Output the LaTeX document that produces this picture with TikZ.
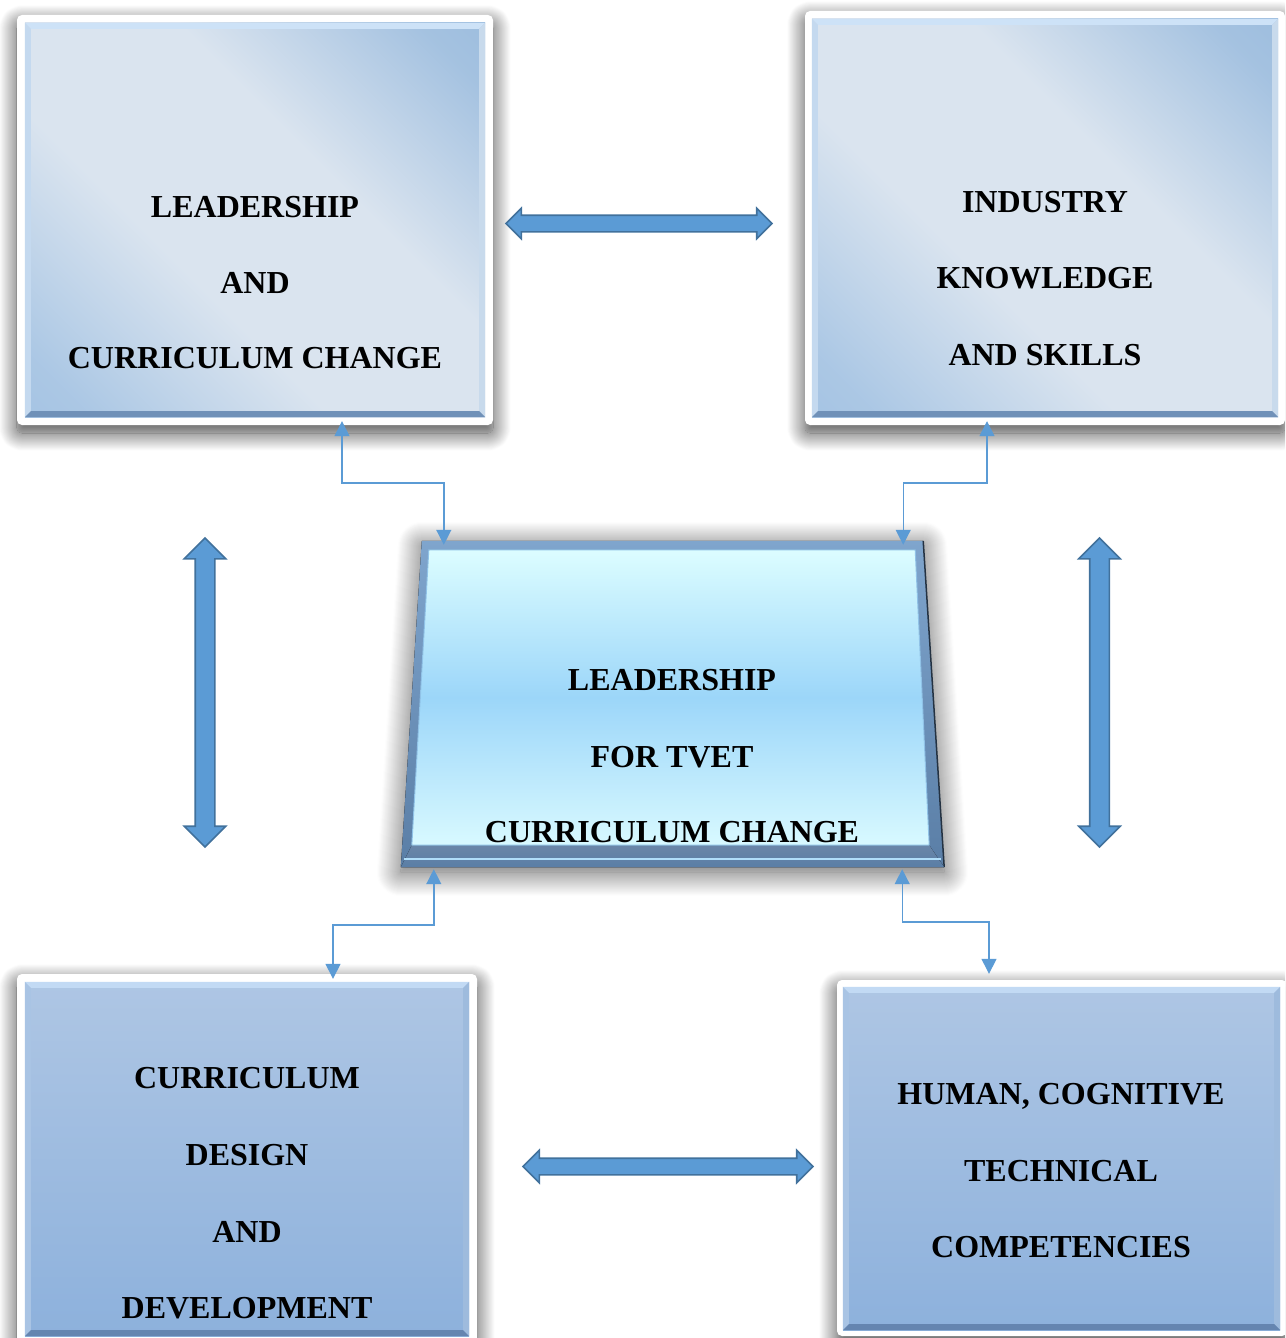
\documentclass[tikz,border=0pt]{standalone}
\usepackage{fontspec}
\setmainfont{Liberation Serif}
\usetikzlibrary{shadows.blur,calc,arrows.meta,shapes.arrows}
\definecolor{connblue}{HTML}{5B9BD5}
\definecolor{arrowfill}{HTML}{5B9BD5}
\definecolor{arrowedge}{HTML}{41719C}
\definecolor{upblueA}{HTML}{8DB3DA}
\definecolor{upblueB}{HTML}{97BBE0}
\definecolor{uplight}{HTML}{DAE4EF}
\definecolor{lowtop}{HTML}{AEC6E4}
\definecolor{lowbot}{HTML}{8DB1DC}
\definecolor{ctop}{HTML}{DCFDFF}
\definecolor{cmid}{HTML}{9CD6F9}
\definecolor{cbot}{HTML}{D8F9FF}
\definecolor{rimtop}{HTML}{7FA5CD}
\definecolor{rimbot}{HTML}{5A7EA6}
\definecolor{rimband}{HTML}{6A86A8}
\definecolor{bvUpT}{HTML}{CDE2F7}
\definecolor{bvUpL}{HTML}{C4D9EF}
\definecolor{bvUpR}{HTML}{C8DAEC}
\definecolor{bvUpB}{HTML}{7091B8}
\definecolor{bvLoT}{HTML}{C2DAF4}
\definecolor{bvLoL}{HTML}{A9C4E4}
\definecolor{bvLoR}{HTML}{9EBBDD}
\definecolor{bvLoB}{HTML}{6585B0}
\pgfdeclareverticalshading{upshade}{100bp}{%
  color(0bp)=(upblueB); color(20bp)=(upblueB!70!uplight); color(40bp)=(uplight);
  color(60bp)=(uplight); color(80bp)=(upblueA!70!uplight); color(100bp)=(upblueA)}
\newcommand\bevelbox[6]{%
  \fill[#3] (#1.north west) -- (#1.north east) -- ($(#1.north east)+(-#2,#2)$) -- ($(#1.north west)+(#2,#2)$) -- cycle;
  \fill[#4] (#1.north west) -- ($(#1.north west)+(#2,#2)$) -- ($(#1.south west)+(#2,-#2)$) -- (#1.south west) -- cycle;
  \fill[#5] (#1.north east) -- ($(#1.north east)+(-#2,#2)$) -- ($(#1.south east)+(-#2,-#2)$) -- (#1.south east) -- cycle;
  \fill[#6] (#1.south west) -- ($(#1.south west)+(#2,-#2)$) -- ($(#1.south east)+(-#2,-#2)$) -- (#1.south east) -- cycle;
}
\begin{document}
\begin{tikzpicture}[x=1pt,y=-1pt,
  frame/.style={fill=white, rounded corners=5pt, inner sep=0pt,
    blur shadow={shadow xshift=0pt,shadow yshift=-8pt,shadow blur radius=18pt,
      shadow blur steps=24,shadow opacity=75}},
  upface/.style={inner sep=0pt, shading=upshade, shading angle=-45},
  lowface/.style={inner sep=0pt, top color=lowtop, bottom color=lowbot},
  lbl/.style={font=\fontsize{32}{38}\selectfont\bfseries, anchor=base, inner sep=0pt},
  link/.style={draw=connblue, line width=1.4pt, {Triangle[width=15pt,length=15pt]}-{Triangle[width=15pt,length=15pt]}},
  bigarrow/.style={double arrow, double arrow head extend=#1, fill=arrowfill, draw=arrowedge,
    line width=1.6pt, inner sep=0pt, text depth=0pt},
]
\useasboundingbox (0,0) rectangle (1285,1338);
\clip (0,0) rectangle (1285,1338);

% ---------- outer frames with shadows
\node[frame, minimum width=476pt, minimum height=410pt] (tl) at (255,220) {};
\node[frame, minimum width=480pt, minimum height=414pt] (tr) at (1045,218) {};
\node[frame, minimum width=460pt, minimum height=370pt] (bl) at (247,1159) {};
\node[frame, minimum width=450pt, minimum height=356pt] (br) at (1062,1158) {};

% ---------- faces
\node[upface, minimum width=460pt, minimum height=394pt] (tlf) at (255,220) {};
\node[upface, minimum width=466pt, minimum height=398pt] (trf) at (1045,218) {};
\node[lowface, minimum width=444pt, minimum height=354pt] (blf) at (247,1159) {};
\node[lowface, minimum width=437pt, minimum height=343pt] (brf) at (1061.5,1158.5) {};
\bevelbox{tlf}{6}{bvUpT}{bvUpL}{bvUpR}{bvUpB}
\bevelbox{trf}{6}{bvUpT}{bvUpL}{bvUpR}{bvUpB}
\bevelbox{blf}{6}{bvLoT}{bvLoL}{bvLoR}{bvLoB}
\bevelbox{brf}{6}{bvLoT}{bvLoL}{bvLoR}{bvLoB}

% ---------- texts
\node[lbl] (tl1) at (255,217) {LEADERSHIP};
\node[lbl] (tl2) at (255,293) {AND};
\node[lbl] (tl3) at (255,368) {CURRICULUM CHANGE};
\node[lbl] (tr1) at (1045,212) {INDUSTRY};
\node[lbl] (tr2) at (1045,288) {KNOWLEDGE};
\node[lbl] (tr3) at (1045,365) {AND SKILLS};
\node[lbl] (bl1) at (247,1088) {CURRICULUM};
\node[lbl] (bl2) at (247,1165) {DESIGN};
\node[lbl] (bl3) at (247,1242) {AND};
\node[lbl] (bl4) at (247,1318) {DEVELOPMENT};
\node[lbl] (br1) at (1061,1104) {HUMAN, COGNITIVE};
\node[lbl] (br2) at (1061,1181) {TECHNICAL};
\node[lbl] (br3) at (1061,1257) {COMPETENCIES};

% ---------- central trapezoid
\node[inner sep=0pt, minimum width=543pt, minimum height=326pt] (ctr) at (672.5,704) {};
\coordinate (oTL) at ($(ctr.north west)+(21,0)$);
\coordinate (oTR) at ($(ctr.north east)+(-21,0)$);
\coordinate (oBR) at (ctr.south east);
\coordinate (oBL) at (ctr.south west);
\coordinate (iTL) at ($(ctr.north west)+(28,9)$);
\coordinate (iTR) at ($(ctr.north east)+(-29,9)$);
\coordinate (iBR) at ($(ctr.south east)+(-15,-22)$);
\coordinate (iBL) at ($(ctr.south west)+(11,-22)$);
\path[blur shadow={shadow xshift=0pt,shadow yshift=-5pt,shadow blur radius=24pt,
    shadow blur steps=24,shadow opacity=65}]
  (oTL) -- (oTR) -- (oBR) -- (oBL) -- cycle;
\fill[top color=rimtop, bottom color=rimbot] (oTL) -- (oTR) -- (oBR) -- (oBL) -- cycle;
\draw[color=black!60!rimbot, line width=1.5pt] (oTR) -- (oBR);
\fill[top color=rimband, bottom color=rimbot] (iBL) -- (iBR) -- (oBR) -- (oBL) -- cycle;
\draw[color=cmid!80!white, line width=2.5pt] ($(oBL)+(3,-8)$) -- ($(oBR)+(-3,-8)$);
\fill[top color=ctop, bottom color=cbot, middle color=cmid, draw=cmid!60!rimtop, line width=1pt]
  (iTL) -- (iTR) -- (iBR) -- (iBL) -- cycle;
\node[lbl] (c1) at (672,690) {LEADERSHIP};
\node[lbl] (c2) at (672,767) {FOR TVET};
\node[lbl] (c3) at (672,842) {CURRICULUM CHANGE};

% ---------- thin connectors
\draw[link] ($(tl.south)+(87,-4)$) |- ($(ctr.north west)+(43,-58)$) -- ($(ctr.north west)+(43,4)$);
\draw[link] ($(tr.south)+(-58,-4)$) |- ($(ctr.north east)+(-41,-58)$) -- ($(ctr.north east)+(-41,4)$);
\draw[link] ($(ctr.south west)+(33,2)$) |- ($(bl.north)+(86,-49)$) -- ($(bl.north)+(86,5)$);
\draw[link] ($(ctr.south east)+(-42,2)$) |- ($(br.north)+(-73,-58)$) -- ($(br.north)+(-73,-6)$);

% ---------- big double arrows
\node[bigarrow=7pt, text height=15pt, minimum height=266pt, minimum width=29pt] (aTop) at (639,223.5) {};
\node[bigarrow=8pt, text height=15pt, minimum height=290pt, minimum width=31pt] (aBot) at (668,1166.5) {};
\node[bigarrow=11pt, text height=18pt, minimum height=309pt, minimum width=40pt, rotate=90] (aLeft) at (205,692.5) {};
\node[bigarrow=11pt, text height=18pt, minimum height=309pt, minimum width=40pt, rotate=90] (aRight) at (1099.5,692.5) {};
\end{tikzpicture}
\end{document}
